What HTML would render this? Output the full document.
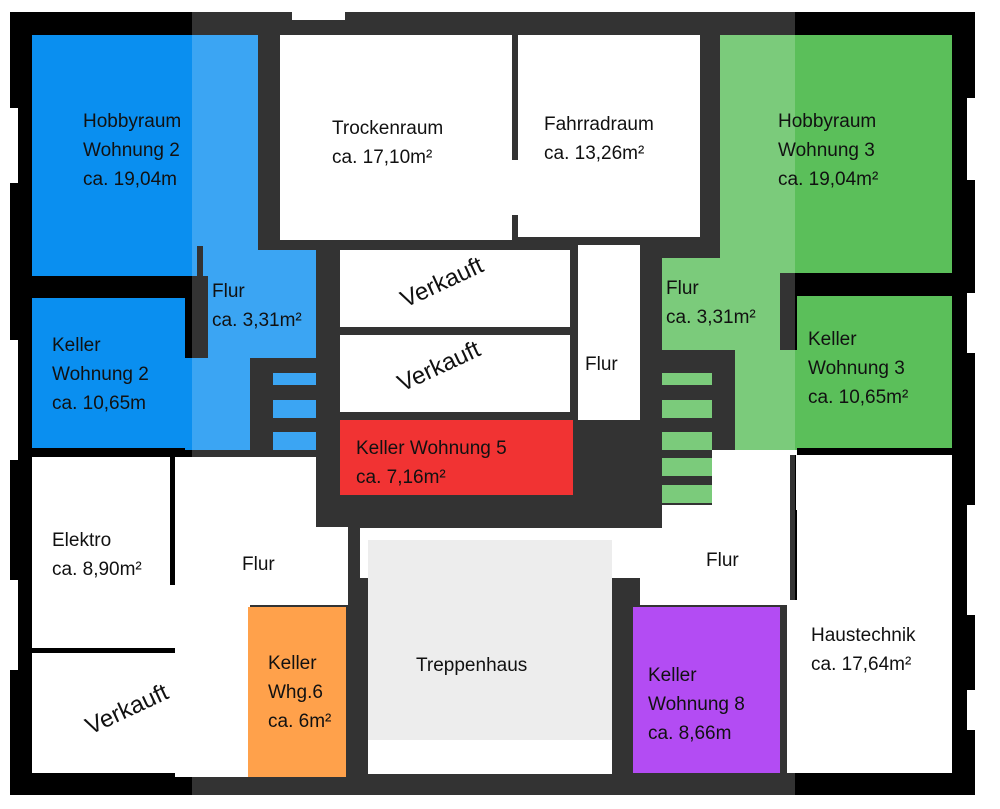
<!DOCTYPE html><html><head><style>
body{margin:0;width:1000px;height:809px;background:#fff;position:relative;overflow:hidden;font-family:"Liberation Sans",sans-serif;}
div{position:absolute;}
.t{font-size:19px;line-height:29px;color:#111;white-space:nowrap}
.b{background:#0a8ff0}.g{background:#5bbf5a}.w{background:#fff}
</style></head><body>
<div style="left:10px;top:12px;width:965px;height:783px;background:#000"></div>
<div class="w" style="left:292px;top:12px;width:53px;height:8px"></div>
<div class="w" style="left:0;top:108px;width:18px;height:75px"></div>
<div class="w" style="left:0;top:340px;width:18px;height:120px"></div>
<div class="w" style="left:0;top:580px;width:18px;height:90px"></div>
<div class="w" style="left:967px;top:98px;width:20px;height:82px"></div>
<div class="w" style="left:967px;top:293px;width:20px;height:60px"></div>
<div class="w" style="left:967px;top:505px;width:20px;height:110px"></div>
<div class="w" style="left:967px;top:690px;width:20px;height:40px"></div>
<!-- top left blue -->
<div class="b" style="left:32px;top:35px;width:226px;height:241px"></div>
<div class="b" style="left:208px;top:250px;width:108px;height:108px"></div>
<div class="b" style="left:32px;top:298px;width:153px;height:150px"></div>
<div class="b" style="left:185px;top:358px;width:65px;height:92px"></div>
<div class="b" style="left:273px;top:373px;width:43px;height:12px"></div>
<div class="b" style="left:273px;top:400px;width:43px;height:18px"></div>
<div class="b" style="left:273px;top:432px;width:43px;height:18px"></div>
<div class="b" style="left:273px;top:458px;width:43px;height:18px"></div>
<div class="b" style="left:273px;top:485px;width:43px;height:18px"></div>
<div style="left:197px;top:246px;width:6px;height:30px;background:#000"></div>
<!-- top middle -->
<div class="w" style="left:280px;top:35px;width:232px;height:205px"></div>
<div class="w" style="left:518px;top:35px;width:182px;height:202px"></div>
<div class="w" style="left:512px;top:160px;width:6px;height:55px"></div>
<div class="w" style="left:340px;top:250px;width:230px;height:77px"></div>
<div class="w" style="left:340px;top:335px;width:230px;height:77px"></div>
<div class="w" style="left:578px;top:245px;width:62px;height:175px"></div>
<div style="left:340px;top:420px;width:233px;height:75px;background:#e00"></div>
<!-- top right green -->
<div class="g" style="left:720px;top:35px;width:232px;height:238px"></div>
<div class="g" style="left:662px;top:258px;width:118px;height:92px"></div>
<div class="g" style="left:797px;top:296px;width:155px;height:152px"></div>
<div class="g" style="left:735px;top:350px;width:62px;height:100px"></div>
<div class="g" style="left:662px;top:373px;width:50px;height:12px"></div>
<div class="g" style="left:662px;top:400px;width:50px;height:18px"></div>
<div class="g" style="left:662px;top:432px;width:50px;height:18px"></div>
<div class="g" style="left:662px;top:458px;width:50px;height:18px"></div>
<div class="g" style="left:662px;top:485px;width:50px;height:18px"></div>
<!-- lower -->
<div class="w" style="left:32px;top:457px;width:138px;height:191px"></div>
<div class="w" style="left:175px;top:457px;width:75px;height:320px"></div>
<div class="w" style="left:168px;top:585px;width:10px;height:63px"></div>
<div class="w" style="left:32px;top:653px;width:215px;height:120px"></div>
<div class="w" style="left:250px;top:527px;width:98px;height:78px"></div>
<div class="w" style="left:250px;top:457px;width:66px;height:70px"></div>
<div class="w" style="left:360px;top:528px;width:302px;height:50px"></div>
<div class="w" style="left:368px;top:578px;width:244px;height:196px"></div>
<div class="w" style="left:640px;top:530px;width:150px;height:75px"></div>
<div class="w" style="left:662px;top:505px;width:130px;height:30px"></div>
<div class="w" style="left:712px;top:450px;width:85px;height:60px"></div>
<div class="w" style="left:797px;top:455px;width:155px;height:318px"></div>
<div class="w" style="left:787px;top:600px;width:12px;height:173px"></div>
<div style="left:248px;top:607px;width:98px;height:170px;background:#ff8a1e"></div>
<div style="left:633px;top:607px;width:147px;height:166px;background:#a020f0"></div>
<div style="left:790px;top:455px;width:6px;height:90px;background:#000"></div>
<!-- watermark overlay -->
<div style="left:192px;top:0;width:603px;height:809px;background:rgba(255,255,255,0.2)"></div>
<div style="left:368px;top:540px;width:244px;height:200px;background:rgba(0,0,0,0.07)"></div>
<!-- labels -->
<div class="t" style="left:83px;top:107px">Hobbyraum<br>Wohnung 2<br>ca. 19,04m</div>
<div class="t" style="left:212px;top:277px">Flur<br>ca. 3,31m²</div>
<div class="t" style="left:52px;top:331px">Keller<br>Wohnung 2<br>ca. 10,65m</div>
<div class="t" style="left:332px;top:114px">Trockenraum<br>ca. 17,10m²</div>
<div class="t" style="left:544px;top:110px">Fahrradraum<br>ca. 13,26m²</div>
<div class="t" style="left:778px;top:107px">Hobbyraum<br>Wohnung 3<br>ca. 19,04m²</div>
<div class="t" style="left:666px;top:274px">Flur<br>ca. 3,31m²</div>
<div class="t" style="left:808px;top:325px">Keller<br>Wohnung 3<br>ca. 10,65m²</div>
<div class="t" style="left:585px;top:350px">Flur</div>
<div class="t" style="left:356px;top:434px">Keller Wohnung 5<br>ca. 7,16m²</div>
<div class="t" style="left:398px;top:268px;font-size:24px;transform:rotate(-25deg)">Verkauft</div>
<div class="t" style="left:395px;top:352px;font-size:24px;transform:rotate(-25deg)">Verkauft</div>
<div class="t" style="left:52px;top:526px">Elektro<br>ca. 8,90m²</div>
<div class="t" style="left:242px;top:550px">Flur</div>
<div class="t" style="left:706px;top:546px">Flur</div>
<div class="t" style="left:268px;top:649px">Keller<br>Whg.6<br>ca. 6m²</div>
<div class="t" style="left:416px;top:651px">Treppenhaus</div>
<div class="t" style="left:648px;top:661px">Keller<br>Wohnung 8<br>ca. 8,66m</div>
<div class="t" style="left:811px;top:621px">Haustechnik<br>ca. 17,64m²</div>
<div class="t" style="left:83px;top:695px;font-size:24px;transform:rotate(-25deg)">Verkauft</div>
</body></html>
